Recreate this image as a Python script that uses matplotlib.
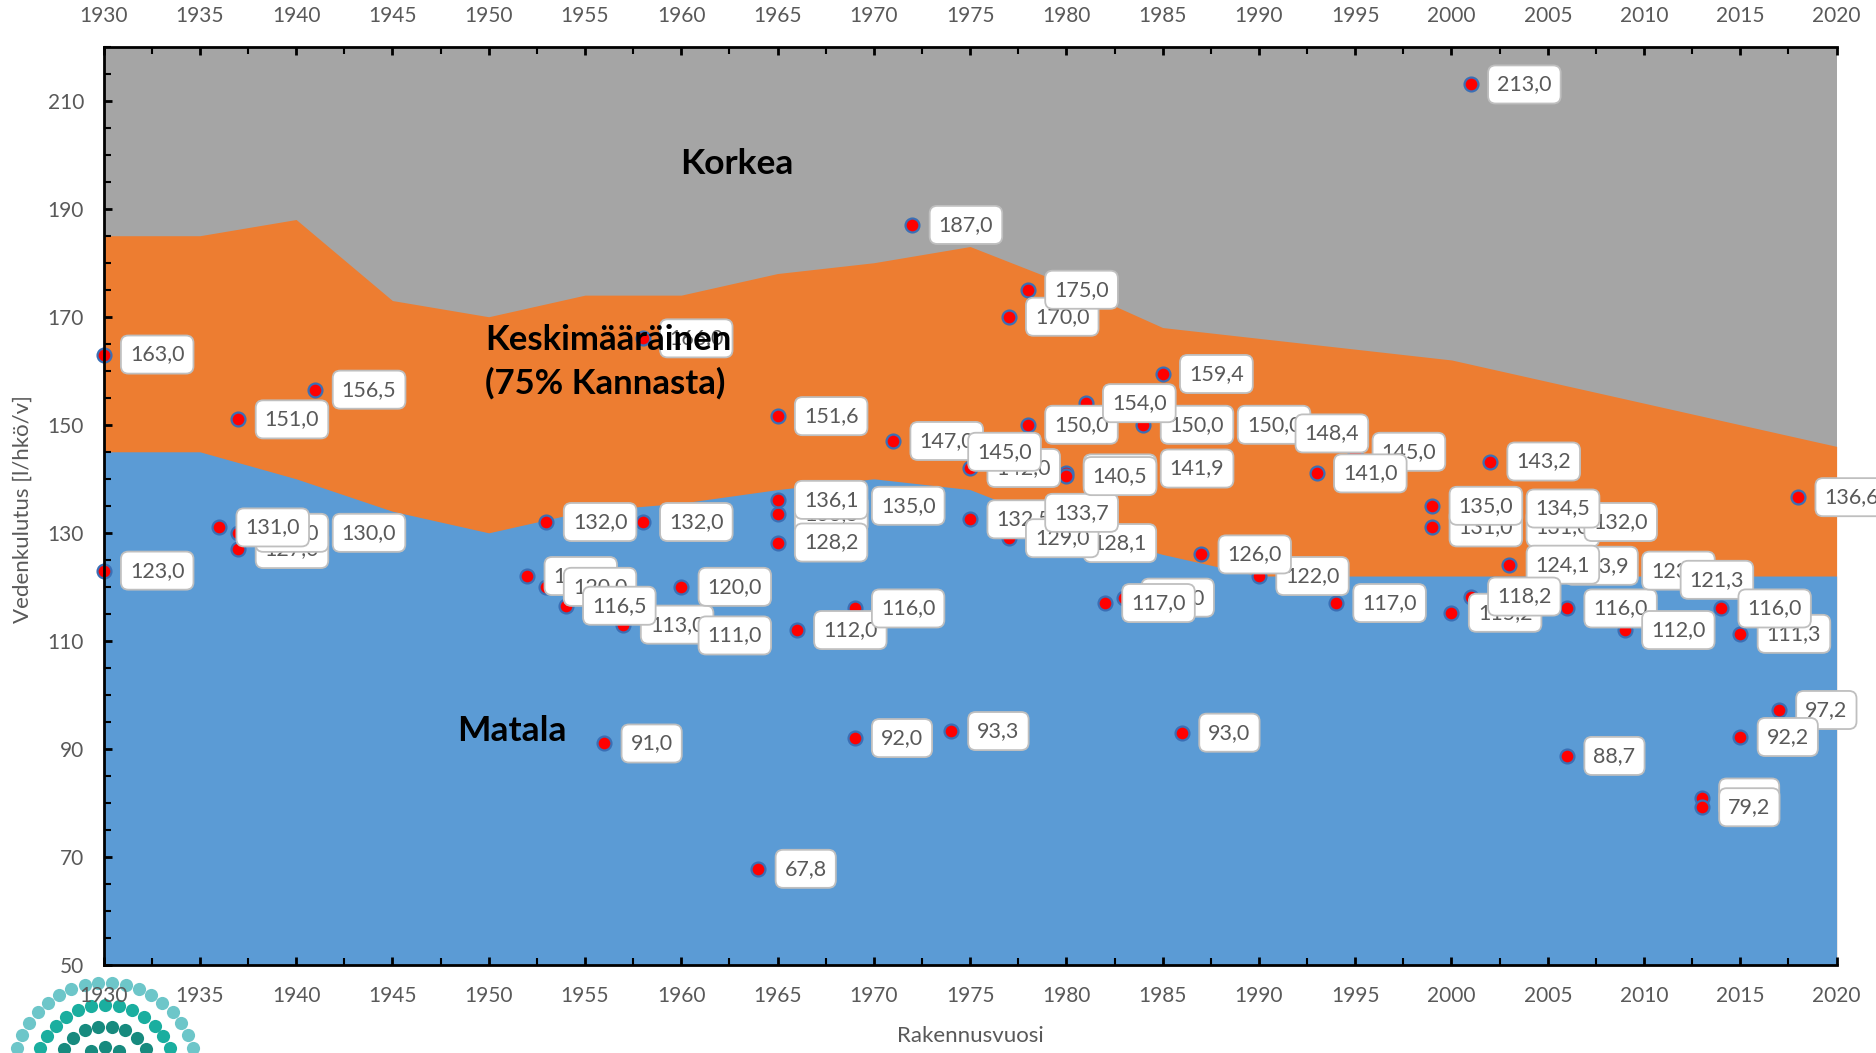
import numpy as np
import matplotlib.pyplot as plt
from matplotlib.ticker import MultipleLocator, FixedLocator

plt.rcParams['font.family'] = ['Lato', 'DejaVu Sans']

# area bands (upper edges), every 5 years
area_years = [1930, 1935, 1940, 1945, 1950, 1955, 1960, 1965, 1970, 1975,
              1980, 1985, 1990, 1995, 2000, 2005, 2010, 2015, 2020]
matala_top = [145, 145, 140, 134, 130, 134, 135.5, 138, 140, 138,
              131, 126, 122, 122, 122, 122, 122, 122, 122]
keski_top = [185, 185, 188, 173, 170, 174, 174, 178, 180, 183,
             176, 168, 166, 164, 162, 158, 154, 150, 146]

# measured buildings (drawing order = label stacking order)
pt_years = [1930, 1930, 1937, 1937, 1941, 1936, 1937, 1941,
            1952, 1953, 1957, 1954, 1960, 1960, 1953, 1958, 1958,
            1964, 1956, 1965, 1965, 1965, 1965, 1969, 1966, 1969, 1969,
            1971, 1972, 1974, 1975, 1974, 1975, 1980, 1977, 1978,
            1977, 1978, 1978, 1984, 1981, 1985, 1980, 1980, 1984,
            1988, 1991, 1995, 1993, 1983, 1982, 1986, 1990, 1987, 1994,
            1999, 1999, 2001, 2002, 2003, 2006, 2003, 2005, 2003,
            2000, 2001, 2006, 2006, 2009, 2009, 2011, 2015, 2014,
            2013, 2013, 2017, 2015, 2018]
pt_values = [163.0, 123.0, 127.0, 130.0, 130.0, 131.0, 151.0, 156.5,
             122.0, 120.0, 113.0, 116.5, 111.0, 120.0, 132.0, 132.0, 166.0,
             67.8, 91.0, 151.6, 133.5, 128.2, 136.1, 135.0, 112.0, 116.0, 92.0,
             147.0, 187.0, 93.3, 142.0, 145.0, 132.5, 128.1, 129.0, 133.7,
             170.0, 175.0, 150.0, 150.0, 154.0, 159.4, 141.0, 140.5, 141.9,
             150.0, 148.4, 145.0, 141.0, 118.0, 117.0, 93.0, 122.0, 126.0, 117.0,
             131.0, 135.0, 213.0, 143.2, 131.0, 132.0, 134.5, 123.9, 124.1,
             115.2, 118.2, 116.0, 88.7, 112.0, 123.0, 121.3, 111.3, 116.0,
             81.0, 79.2, 97.2, 92.2, 136.6]

grey_txt = '#595959'

fig = plt.figure(figsize=(18.76, 10.53), dpi=100)
ax = fig.add_axes([0.0552, 0.0836, 0.9238, 0.8721])

ax.set_facecolor('#A5A5A5')
ax.fill_between(area_years, 50, keski_top, color='#ED7D31', lw=0, zorder=1)
ax.fill_between(area_years, 50, matala_top, color='#5B9BD5', lw=0, zorder=1)
ax.set_xlim(1930, 2020)
ax.set_ylim(50, 220)

for side in ['left', 'top', 'bottom']:
    ax.spines[side].set_color('black')
    ax.spines[side].set_linewidth(2)
    ax.spines[side].set_zorder(6)
ax.spines['right'].set_visible(False)

ax.xaxis.set_major_locator(MultipleLocator(5))
ax.xaxis.set_minor_locator(MultipleLocator(2.5))
ax.yaxis.set_major_locator(FixedLocator(range(50, 211, 20)))
ax.yaxis.set_minor_locator(MultipleLocator(5))

ax.tick_params(axis='x', which='both', direction='in', top=True, bottom=True,
               labeltop=True, labelbottom=True, colors='black',
               labelcolor=grey_txt, labelsize=15, pad=15)
ax.tick_params(axis='y', which='both', direction='in', left=True, right=False,
               colors='black', labelcolor=grey_txt, labelsize=15, pad=14)
ax.tick_params(which='major', length=6, width=2)
ax.tick_params(which='minor', length=5, width=1.5)

ax.scatter(pt_years, pt_values, s=100, c='#FF0000', edgecolors='#3A6FB5',
           linewidths=1.6, zorder=3, clip_on=False)

for i, (x, y) in enumerate(zip(pt_years, pt_values)):
    ax.annotate(f"{y:.1f}".replace('.', ','), (x, y), xytext=(19, 0),
                textcoords='offset points', ha='left', va='center',
                fontsize=15.5, color=grey_txt, annotation_clip=False,
                bbox=dict(boxstyle='round,pad=0.42,rounding_size=0.35',
                          fc='white', ec='#BFBFBF', lw=1.3),
                zorder=4 + i * 0.01)

ax.text(1962.9, 198.3, 'Korkea', ha='center', va='center', fontsize=25.5,
        fontweight='bold', color='black', zorder=10)
ax.text(1949.8, 161.7, 'Keskimääräinen\n(75% Kannasta)', ha='left',
        va='center', fontsize=25, fontweight='bold', color='black',
        linespacing=1.42, zorder=10)
ax.text(1951.2, 93.3, 'Matala', ha='center', va='center', fontsize=25.5,
        fontweight='bold', color='black', zorder=10)

fig.text(970 / 1876, 1 - 1036 / 1053, 'Rakennusvuosi', ha='center',
         va='center', fontsize=16, color=grey_txt)
fig.text(23 / 1876, 1 - 509 / 1053, 'Vedenkulutus [l/hkö/v]', ha='center',
         va='center', rotation=90, fontsize=16, color=grey_txt)

# small logo in the lower left corner
lax = fig.add_axes([0, 0, 0.12, 0.09], zorder=-1)
lax.set_xlim(0, 225)
lax.set_ylim(0, 94.8)
lax.axis('off')
rings = [(92, '#6DC6C9', 22), (70, '#1AAE9F', 17), (49, '#178A7E', 12), (28, '#178A7E', 7)]
for r, col, n in rings:
    ang = np.linspace(0, np.pi, n)
    xs = 105 + r * np.cos(ang)
    ys = -22 + r * np.sin(ang)
    keep = ys > 2
    lax.scatter(xs[keep], ys[keep], s=90, c=col, lw=0)

fig.savefig('out.png', dpi=100)
